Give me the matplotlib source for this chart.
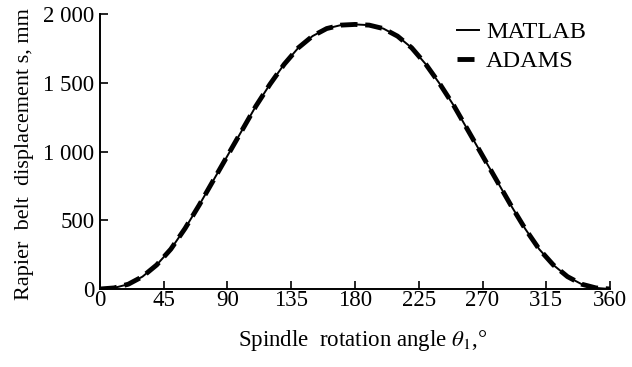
import matplotlib.pyplot as plt
import numpy as np

plt.rcParams["font.family"] = ["Liberation Serif", "DejaVu Serif"]
plt.rcParams["mathtext.fontset"] = "stix"

# Spindle angle, degrees
angle = [0, 10, 20, 30, 40, 50, 60, 70, 80, 90, 100, 110, 120, 130, 140, 150, 160, 170, 180,
         190, 200, 210, 220, 230, 240, 250, 260, 270, 280, 290, 300, 310, 320, 330, 340, 350, 360]
# Rapier belt displacement, mm
matlab = [0, 8, 35, 90, 175, 290, 440, 610, 790, 970, 1150, 1330, 1490, 1635, 1755, 1840, 1895, 1920, 1925,
          1920, 1895, 1840, 1755, 1635, 1490, 1330, 1150, 970, 790, 610, 440, 290, 175, 90, 35, 8, 0]
adams = [0, 8, 35, 90, 175, 290, 440, 610, 790, 970, 1150, 1330, 1490, 1635, 1755, 1840, 1895, 1920, 1925,
         1920, 1895, 1840, 1755, 1635, 1490, 1330, 1150, 970, 790, 610, 440, 290, 175, 90, 35, 8, 0]

x_ticks = [0, 45, 90, 135, 180, 225, 270, 315, 360]
y_ticks = [0, 500, 1000, 1500, 2000]
y_tick_labels = ["0", "500", "1 000", "1 500", "2 000"]

fig = plt.figure(figsize=(6.32, 3.67), dpi=100)
ax = fig.add_axes([0.1582, 0.2125, 0.807, 0.749])

ax.plot(angle, adams, color="black", linewidth=3.5, linestyle=(0, (3.5, 1.6)), label="ADAMS")
ax.plot(angle, matlab, color="black", linewidth=1.4, label="MATLAB")

ax.set_xlim(0, 360)
ax.set_ylim(0, 2000)
ax.set_xticks(x_ticks)
ax.set_yticks(y_ticks)
ax.set_yticklabels(y_tick_labels)
ax.tick_params(direction="in", length=6, width=1.2, labelsize=16.5)
ax.tick_params(axis="x", pad=1)
ax.tick_params(axis="y", pad=4)

for side in ["top", "right"]:
    ax.spines[side].set_visible(False)
for side in ["left", "bottom"]:
    ax.spines[side].set_linewidth(1.4)

ax.set_ylabel("Rapier  belt  displacement s, mm", fontsize=16, labelpad=6)
ax.yaxis.set_label_coords(-0.13, 0.49)
ax.set_xlabel(r"Spindle  rotation angle $\theta_1$,°", fontsize=16.5, labelpad=12)
ax.xaxis.label.set_x(0.515)

handles, labels = ax.get_legend_handles_labels()
ax.legend(handles[::-1], labels[::-1], loc="upper left", bbox_to_anchor=(0.70, 0.975),
          frameon=False, fontsize=17.5, handlelength=0.9, handletextpad=0.3,
          labelspacing=0.3, borderpad=0, borderaxespad=0)

fig.savefig("out.png", dpi=100)
